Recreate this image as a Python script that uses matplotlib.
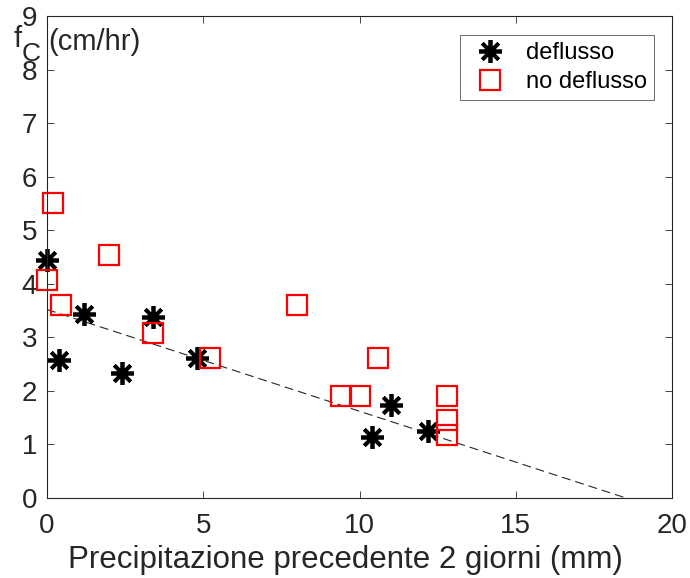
import matplotlib.pyplot as plt
import numpy as np

plt.rcParams['font.family'] = ['Liberation Sans', 'DejaVu Sans']

# deflusso (asterischi)
x_defl = [0.0, 0.4, 1.2, 2.4, 3.4, 4.8, 10.4, 11.0, 12.2]
y_defl = [4.45, 2.58, 3.44, 2.33, 3.38, 2.62, 1.14, 1.74, 1.25]

# no deflusso (quadrati)
x_nodefl = [0.2, 0.0, 2.0, 0.45, 3.4, 5.2, 8.0, 10.6, 9.4, 10.0, 12.8, 12.8, 12.8]
y_nodefl = [5.5, 4.08, 4.53, 3.6, 3.08, 2.62, 3.6, 2.62, 1.9, 1.9, 1.9, 1.45, 1.18]

# retta di regressione
intercept = 3.52
slope = -0.19
x_fit = [0.0, 20.0]

xticks = [0, 5, 10, 15, 20]
yticks = list(range(10))

fig = plt.figure(figsize=(6.9, 5.78), dpi=100)
ax = fig.add_axes([0.0681, 0.1384, 0.9059, 0.8339])

grey = '#262626'
xf = np.array(x_fit)
ax.plot(xf, intercept + slope * xf, '--', color=grey, lw=0.8, dashes=(8, 4.5))
ax.plot(x_defl, y_defl, linestyle='none', marker=(8, 2, 0), ms=16.5, mew=2.7,
        color='black', label='deflusso', clip_on=False)
ax.plot(x_nodefl, y_nodefl, linestyle='none', marker='s', ms=14, mew=1.6,
        mfc='none', mec='red', label='no deflusso', clip_on=False)

ax.set_xlim(0, 20)
ax.set_ylim(0, 9)
ax.set_xticks(xticks)
ax.set_yticks(yticks)
ax.tick_params(direction='in', length=5, width=0.6, colors=grey,
               labelsize=20, top=True, right=True)
ax.tick_params(axis='x', pad=11)
ax.tick_params(axis='y', pad=7)
for s in ax.spines.values():
    s.set_color(grey)
    s.set_linewidth(0.8)

ax.set_xlabel('Precipitazione precedente 2 giorni (mm)', fontsize=22.5, color=grey)
ax.xaxis.set_label_coords(0.478, -0.097)

W, H = 690, 578
fig.text(14 / W, 1 - 47 / H, 'f', fontsize=21, color=grey, va='baseline')
fig.text(22 / W, 1 - 61 / H, 'C', fontsize=19, color=grey, va='baseline')
fig.text(48 / W, 1 - 50 / H, '(cm/hr)', fontsize=21, color=grey, va='baseline')

leg = ax.legend(loc='upper right', bbox_to_anchor=(0.971, 0.9606), borderaxespad=0,
                fontsize=17, fancybox=False, edgecolor='#555555', framealpha=1,
                handletextpad=0.5, borderpad=0.3, labelspacing=0.3, handlelength=2.0)
leg.get_frame().set_linewidth(0.6)

fig.savefig('out.png', dpi=100)
